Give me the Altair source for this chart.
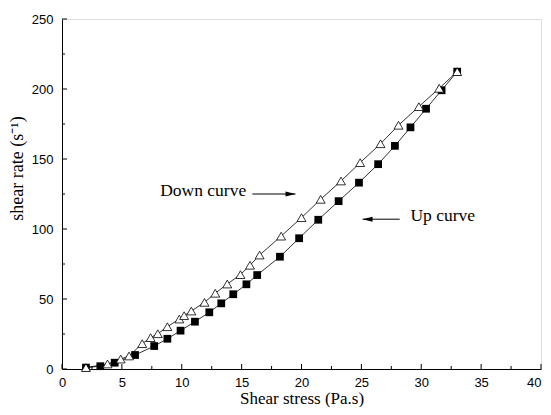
import altair as alt
import pandas as pd

# Up curve (filled squares)
up_x = [2.0, 3.2, 4.4, 6.1, 7.7, 8.8, 9.9, 11.1, 12.3, 13.3, 14.3, 15.4, 16.3,
        18.2, 19.8, 21.4, 23.1, 24.8, 26.4, 27.8, 29.1, 30.4, 31.7, 33.0]
up_y = [1, 2, 4.5, 10, 16.4, 21.6, 27.4, 33.8, 40.5, 46.9, 53.4, 60.5, 67.1,
        80.2, 93.4, 106.6, 119.9, 133.1, 146.3, 159.4, 172.6, 185.9, 199.1, 212.4]

# Down curve (open triangles)
down_x = [2.0, 3.8, 4.9, 5.6, 6.7, 7.4, 8.0, 8.8, 9.8, 10.2, 10.8, 11.9, 12.8, 13.8,
          14.9, 15.7, 16.5, 18.3, 20.0, 21.6, 23.3, 24.9, 26.6, 28.1, 29.8, 31.5, 33.0]
down_y = [1, 3.6, 7.1, 9.3, 18.1, 22.4, 25.2, 30.2, 35.7, 38.1, 41.4, 47.6, 54.1, 60.7,
          67.4, 74.1, 81.4, 94.9, 108.1, 121.2, 134.3, 147.4, 160.9, 174.1, 187.4, 200.5, 212.4]

x_major = [0, 5, 10, 15, 20, 25, 30, 35, 40]
x_minor = [2.5, 7.5, 12.5, 17.5, 22.5, 27.5, 32.5, 37.5]
y_major = [0, 50, 100, 150, 200, 250]
y_minor = [25, 75, 125, 175, 225]

note_text = ["Down curve", "Up curve"]
note_x = [8.2, 29.1]
note_y = [127, 109]
arrow_x_start = [15.9, 28.2]
arrow_x_end = [19.5, 25.1]
arrow_y = [125, 107]

W, H = 479, 350
xs = alt.Scale(domain=[0, 40], nice=False, zero=False)
ys = alt.Scale(domain=[0, 250], nice=False, zero=False)

up_df = pd.DataFrame({"x": up_x, "y": up_y})
down_df = pd.DataFrame({"x": down_x, "y": down_y})

x_axis = alt.Axis(values=x_major, format="d", ticks=False, grid=False, domainColor="black",
                  labelFont="Liberation Sans", labelFontSize=13, labelColor="black",
                  labelPadding=7, labelFlush=False,
                  labelAlign={"expr": "datum.value >= 40 ? 'right' : 'center'"},
                  title="Shear stress (Pa.s)", titleFont="Liberation Serif", titleFontSize=17,
                  titleFontWeight="normal", titleColor="black", titleY=34,
                  titleBaseline="alphabetic")
y_axis = alt.Axis(values=y_major, format="d", ticks=False, grid=False, domainColor="black",
                  labelFont="Liberation Sans", labelFontSize=13, labelColor="black",
                  labelPadding=9, labelFlush=False,
                  title="shear rate (s⁻¹)", titleFont="Liberation Serif", titleFontSize=18,
                  titleFontWeight="normal", titleColor="black", titleX=-45, titleY=149,
                  titleAngle=270, titleAlign="center", titleBaseline="middle")

X = lambda f="x": alt.X(f"{f}:Q", scale=xs, axis=x_axis)
Y = lambda f="y": alt.Y(f"{f}:Q", scale=ys, axis=y_axis)

up_line = alt.Chart(up_df).mark_line(color="black", strokeWidth=0.8).encode(x=X(), y=Y())
down_line = alt.Chart(down_df).mark_line(color="black", strokeWidth=0.8).encode(x=X(), y=Y())
up_pts = alt.Chart(up_df).mark_point(shape="square", filled=True, color="black",
                                     size=60, opacity=1).encode(x=X(), y=Y())
down_pts = alt.Chart(down_df).mark_point(shape="triangle-up", filled=True, fill="white",
                                         stroke="black", strokeWidth=0.8, size=80,
                                         opacity=1).encode(x=X(), y=Y())

xmaj = alt.Chart(pd.DataFrame({"x": x_major})).mark_rule(color="black").encode(
    x=X(), y=alt.value(H), y2=alt.value(H - 5))
xmin = alt.Chart(pd.DataFrame({"x": x_minor})).mark_rule(color="black").encode(
    x=X(), y=alt.value(H), y2=alt.value(H - 3))
ymaj = alt.Chart(pd.DataFrame({"y": y_major})).mark_rule(color="black").encode(
    y=Y(), x=alt.value(0), x2=alt.value(5))
ymin = alt.Chart(pd.DataFrame({"y": y_minor})).mark_rule(color="black").encode(
    y=Y(), x=alt.value(0), x2=alt.value(3))

notes = alt.Chart(pd.DataFrame({"x": note_x, "y": note_y, "t": note_text})).mark_text(
    align="left", baseline="middle", font="Liberation Serif", fontSize=17.5, color="black").encode(
    x=X(), y=Y(), text="t:N")

arrows_df = pd.DataFrame({"x": arrow_x_start, "x2": arrow_x_end, "y": arrow_y})
arrow_lines = alt.Chart(arrows_df).mark_rule(color="black", strokeWidth=1).encode(
    x=X(), x2="x2:Q", y=Y())
head_right = alt.Chart(arrows_df.iloc[[0]]).mark_point(
    shape="M0,0 L-2,-0.5 L-2,0.5 Z", filled=True, color="black", size=100, opacity=1).encode(
    x=X("x2"), y=Y())
head_left = alt.Chart(arrows_df.iloc[[1]]).mark_point(
    shape="M0,0 L2,-0.5 L2,0.5 Z", filled=True, color="black", size=100, opacity=1).encode(
    x=X("x2"), y=Y())

chart = alt.layer(
    up_line, down_line, xmaj, xmin, ymaj, ymin, up_pts, down_pts,
    notes, arrow_lines, head_right, head_left
).properties(
    width=W, height=H,
    autosize=alt.AutoSizeParams(type="none"),
    padding={"left": 54, "top": 11, "right": 2, "bottom": 38},
).configure_view(stroke="transparent").configure(background="white")

chart.save("out.html", embed_options={"renderer": "svg", "actions": False})
